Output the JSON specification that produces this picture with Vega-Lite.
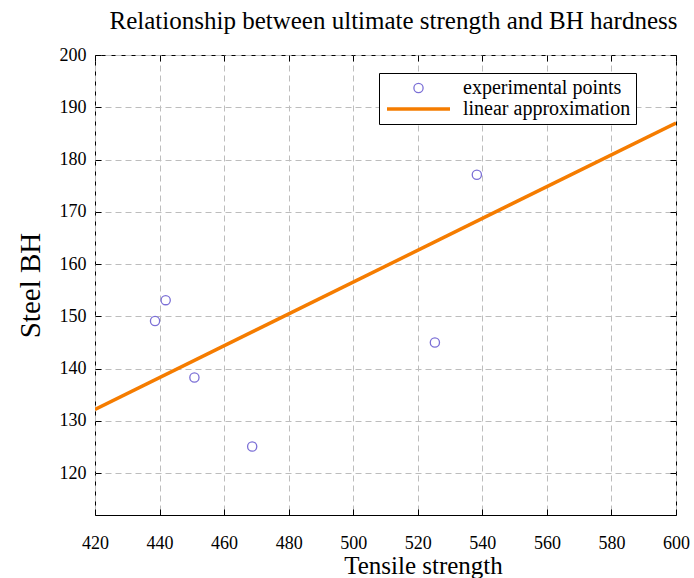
{
  "$schema": "https://vega.github.io/schema/vega-lite/v6.json",
  "width": 581,
  "height": 460,
  "autosize": {"type": "none"},
  "padding": {"left": 95, "top": 55, "right": 18, "bottom": 63},
  "background": "white",
  "title": {
    "text": "Relationship between ultimate strength and BH hardness",
    "font": "Liberation Serif",
    "fontSize": 25,
    "fontWeight": "normal",
    "color": "black",
    "anchor": "middle",
    "offset": 12,
    "dx": 8
  },
  "config": {
    "view": {"stroke": "black", "strokeWidth": 1},
    "font": "Liberation Serif",
    "axis": {
      "labelFont": "Liberation Serif",
      "labelFontSize": 18,
      "labelColor": "black",
      "labelFlush": false,
      "titleFont": "Liberation Serif",
      "titleFontWeight": "normal",
      "titleColor": "black",
      "domain": false,
      "tickColor": "black",
      "tickSize": -6,
      "gridColor": "#bdbdbd",
      "gridDash": [6, 4],
      "gridWidth": 1,
      "gridOpacity": 1
    },
    "legend": {
      "orient": "none",
      "legendX": 284,
      "legendY": 18,
      "title": null,
      "strokeColor": "black",
      "fillColor": "white",
      "padding": 5,
      "symbolOffset": 1,
      "labelFont": "Liberation Serif",
      "labelFontSize": 20,
      "labelColor": "black",
      "labelOffset": 11,
      "labelLimit": 400,
      "clipHeight": 20,
      "rowPadding": 1
    }
  },
  "layer": [
    {
      "data": {
        "values": [
          {"tensile": 438.6, "bh": 149.1, "series": "experimental points"},
          {"tensile": 441.9, "bh": 153.1, "series": "experimental points"},
          {"tensile": 450.8, "bh": 138.3, "series": "experimental points"},
          {"tensile": 468.7, "bh": 125.1, "series": "experimental points"},
          {"tensile": 525.3, "bh": 145.0, "series": "experimental points"},
          {"tensile": 538.3, "bh": 177.1, "series": "experimental points"}
        ]
      },
      "mark": {"type": "point", "filled": false, "opacity": 1},
      "encoding": {
        "x": {
          "field": "tensile",
          "type": "quantitative",
          "scale": {"domain": [420, 600], "nice": false, "zero": false},
          "axis": {
            "orient": "bottom",
            "values": [420, 440, 460, 480, 500, 520, 540, 560, 580, 600],
            "grid": true,
            "labelPadding": 25,
            "title": "Tensile strength",
            "titleFontSize": 25,
            "titleBaseline": "alphabetic",
            "titleX": 328,
            "titleY": 58
          }
        },
        "y": {
          "field": "bh",
          "type": "quantitative",
          "scale": {"domain": [112, 200], "nice": false, "zero": false},
          "axis": {
            "orient": "left",
            "values": [120, 130, 140, 150, 160, 170, 180, 190, 200],
            "grid": true,
            "labelPadding": 15,
            "title": "Steel BH",
            "titleFontSize": 29,
            "titlePadding": 14
          }
        },
        "color": {
          "field": "series",
          "type": "nominal",
          "scale": {"domain": ["experimental points", "linear approximation"], "range": ["#7b6fd6", "#f57c00"]},
          "legend": {"labelExpr": "datum.label + '        '"}
        },
        "shape": {
          "field": "series",
          "type": "nominal",
          "scale": {"domain": ["experimental points", "linear approximation"], "range": ["circle", "stroke"]},
          "legend": {"labelExpr": "datum.label + '        '"}
        },
        "size": {
          "field": "series",
          "type": "ordinal",
          "scale": {"domain": ["experimental points", "linear approximation"], "range": [85, 3969]},
          "legend": {"labelExpr": "datum.label + '        '"}
        },
        "strokeWidth": {
          "field": "series",
          "type": "ordinal",
          "scale": {"domain": ["experimental points", "linear approximation"], "range": [1.3, 3.5]},
          "legend": {"labelExpr": "datum.label + '        '"}
        }
      }
    },
    {
      "data": {
        "values": [
          {"tensile": 420, "bh": 132.2, "series": "linear approximation"},
          {"tensile": 600, "bh": 187.0, "series": "linear approximation"}
        ]
      },
      "mark": {"type": "line", "strokeWidth": 3.5, "clip": true},
      "encoding": {
        "x": {
          "field": "tensile",
          "type": "quantitative",
          "axis": {
            "orient": "top",
            "values": [420, 440, 460, 480, 500, 520, 540, 560, 580, 600],
            "grid": false,
            "labels": false,
            "title": null
          }
        },
        "y": {
          "field": "bh",
          "type": "quantitative",
          "axis": {
            "orient": "right",
            "values": [120, 130, 140, 150, 160, 170, 180, 190, 200],
            "grid": false,
            "labels": false,
            "title": null
          }
        },
        "color": {"field": "series", "type": "nominal", "legend": null}
      }
    }
  ],
  "resolve": {"axis": {"x": "independent", "y": "independent"}}
}
